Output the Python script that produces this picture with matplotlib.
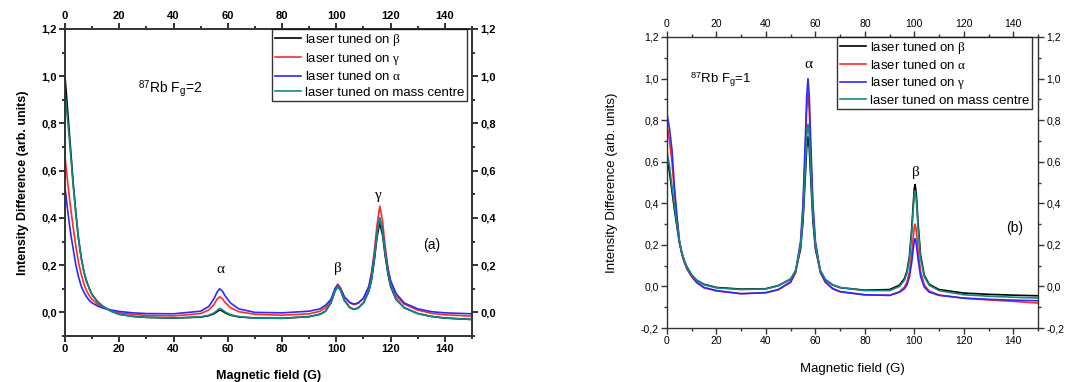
import matplotlib
matplotlib.use('Agg')
import matplotlib.pyplot as plt
from matplotlib.ticker import MultipleLocator, FuncFormatter

plt.rcParams['font.family'] = ['Liberation Sans', 'DejaVu Sans']
plt.rcParams['mathtext.fontset'] = 'custom'
plt.rcParams['mathtext.rm'] = 'Liberation Serif'
plt.rcParams['mathtext.sf'] = 'Liberation Sans'
plt.rcParams['mathtext.it'] = 'Liberation Serif:italic'

# ---------------- data: panel (a) 87Rb Fg=2 ----------------
field_a = [0, 1, 2, 3, 4, 5, 6, 7, 8, 9, 10,
           12, 14, 17, 20, 25, 30, 40,
           50, 53, 55, 56, 57, 58, 59, 61, 64, 70, 80, 90,
           94, 96, 98, 99.5, 100.5, 101.5, 103, 105, 106.5, 108, 110,
           112, 113, 114, 115, 116, 117, 118, 119, 120, 122,
           125, 130, 135, 140, 150]
a_beta = [1.0, 0.85, 0.70, 0.55, 0.42, 0.31, 0.23, 0.17, 0.13, 0.10, 0.075,
          0.045, 0.025, 0.005, -0.008, -0.017, -0.021, -0.024,
          -0.02, -0.014, -0.005, 0.003, 0.01, 0.006, -0.002, -0.012, -0.019, -0.024, -0.025, -0.018,
          -0.008, 0.005, 0.04, 0.09, 0.11, 0.095, 0.05, 0.02, 0.013, 0.018, 0.04,
          0.09, 0.14, 0.22, 0.32, 0.38, 0.33, 0.24, 0.165, 0.11, 0.055,
          0.02, -0.005, -0.017, -0.024, -0.03]
a_gamma = [0.66, 0.55, 0.45, 0.36, 0.28, 0.21, 0.16, 0.12, 0.09, 0.07, 0.055,
           0.035, 0.02, 0.007, -0.002, -0.008, -0.013, -0.015,
           -0.005, 0.01, 0.035, 0.055, 0.066, 0.058, 0.042, 0.02, 0.003, -0.008, -0.012, -0.006,
           0.005, 0.02, 0.05, 0.10, 0.12, 0.105, 0.065, 0.04, 0.033, 0.038, 0.06,
           0.11, 0.17, 0.26, 0.37, 0.45, 0.39, 0.28, 0.19, 0.13, 0.07,
           0.035, 0.01, -0.004, -0.01, -0.016]
a_alpha = [0.53, 0.43, 0.34, 0.27, 0.20, 0.15, 0.11, 0.085, 0.065, 0.05, 0.04,
           0.027, 0.018, 0.01, 0.004, -0.002, -0.005, -0.006,
           0.005, 0.025, 0.06, 0.085, 0.10, 0.09, 0.07, 0.04, 0.015, 0.0, -0.002, 0.005,
           0.015, 0.03, 0.055, 0.10, 0.115, 0.10, 0.065, 0.042, 0.035, 0.04, 0.06,
           0.11, 0.165, 0.24, 0.34, 0.40, 0.35, 0.26, 0.185, 0.135, 0.08,
           0.04, 0.015, 0.003, -0.002, -0.006]
a_mass = [0.93, 0.81, 0.68, 0.54, 0.42, 0.31, 0.23, 0.17, 0.13, 0.10, 0.075,
          0.045, 0.025, 0.005, -0.008, -0.017, -0.021, -0.024,
          -0.019, -0.012, -0.002, 0.008, 0.017, 0.011, 0.002, -0.01, -0.018, -0.024, -0.025, -0.018,
          -0.008, 0.005, 0.04, 0.09, 0.11, 0.095, 0.05, 0.02, 0.013, 0.018, 0.04,
          0.09, 0.145, 0.23, 0.335, 0.40, 0.345, 0.25, 0.17, 0.115, 0.057,
          0.02, -0.005, -0.017, -0.024, -0.03]

# ---------------- data: panel (b) 87Rb Fg=1 ----------------
field_b = [0, 1, 2, 3, 4, 5, 6, 7, 8, 10, 12, 15, 20, 30,
           40, 45, 50, 52, 54, 55, 56, 56.5, 57, 57.5, 58, 59, 60, 62, 64, 67, 70, 80, 90,
           94, 96, 97, 98, 99, 99.5, 100, 100.3, 100.8, 101.5, 102.5, 104, 106, 110,
           120, 130, 140, 150]
b_beta = [0.62, 0.55, 0.46, 0.37, 0.29, 0.21, 0.16, 0.12, 0.095, 0.055, 0.03, 0.01, -0.005, -0.013,
          -0.011, 0.004, 0.035, 0.073, 0.18, 0.315, 0.55, 0.67, 0.72, 0.67, 0.55, 0.315, 0.18, 0.073, 0.033, 0.007, -0.006, -0.018, -0.015,
          0.006, 0.038, 0.073, 0.143, 0.285, 0.387, 0.472, 0.49, 0.444, 0.305, 0.153, 0.054, 0.01, -0.015,
          -0.032, -0.038, -0.042, -0.045]
b_alpha = [0.78, 0.70, 0.60, 0.45, 0.33, 0.22, 0.155, 0.115, 0.085, 0.045, 0.018, -0.007, -0.022, -0.035,
           -0.03, -0.016, 0.019, 0.065, 0.20, 0.37, 0.682, 0.853, 0.93, 0.853, 0.682, 0.37, 0.20, 0.065, 0.019, -0.012, -0.026, -0.041, -0.043,
           -0.025, -0.003, 0.021, 0.068, 0.163, 0.231, 0.288, 0.30, 0.269, 0.176, 0.074, 0.008, -0.022, -0.041,
           -0.057, -0.065, -0.072, -0.08]
b_gamma = [0.83, 0.76, 0.66, 0.48, 0.34, 0.22, 0.16, 0.12, 0.09, 0.05, 0.02, -0.005, -0.02, -0.035,
           -0.03, -0.015, 0.023, 0.072, 0.217, 0.40, 0.734, 0.917, 1.0, 0.917, 0.734, 0.40, 0.217, 0.072, 0.023, -0.01, -0.025, -0.04, -0.043,
           -0.028, -0.011, 0.007, 0.045, 0.121, 0.175, 0.22, 0.23, 0.205, 0.131, 0.05, -0.003, -0.027, -0.043,
           -0.056, -0.062, -0.066, -0.069]
b_mass = [0.65, 0.58, 0.48, 0.39, 0.30, 0.22, 0.165, 0.125, 0.095, 0.055, 0.03, 0.008, -0.007, -0.015,
          -0.012, 0.003, 0.036, 0.078, 0.197, 0.341, 0.593, 0.724, 0.78, 0.724, 0.593, 0.341, 0.197, 0.078, 0.034, 0.008, -0.005, -0.02, -0.02,
          0.0, 0.03, 0.063, 0.13, 0.265, 0.362, 0.443, 0.46, 0.416, 0.284, 0.14, 0.047, 0.006, -0.02,
          -0.04, -0.047, -0.052, -0.056]

C_BLACK = '#000000'
C_RED = '#ff2a2a'
C_BLUE = '#2a2aff'
C_TEAL = '#13897f'

comma = FuncFormatter(lambda v, p: ('%.1f' % v).replace('.', ',').replace('-0,0', '0,0'))
intfmt = FuncFormatter(lambda v, p: '%d' % round(v))

fig = plt.figure(figsize=(10.92, 3.82), dpi=100)
axL = fig.add_axes([65/1092, 46/382, 407/1092, 307/382])
axR = fig.add_axes([667/1092, 54/382, 371/1092, 291/382])


def style(ax, ymin, bold, spw, fs):
    ax.set_xlim(0, 150)
    ax.set_ylim(ymin, 1.2)
    ax.xaxis.set_major_locator(MultipleLocator(20))
    ax.xaxis.set_minor_locator(MultipleLocator(10))
    ax.yaxis.set_major_locator(MultipleLocator(0.2))
    ax.yaxis.set_minor_locator(MultipleLocator(0.1))
    ax.yaxis.set_major_formatter(comma)
    ax.xaxis.set_major_formatter(intfmt)
    ax.tick_params(which='both', direction='out', top=True, right=True,
                   labeltop=True, labelright=True, labelsize=fs, color='#333333',
                   width=spw, pad=2)
    ax.tick_params(which='major', length=4)
    ax.tick_params(which='minor', length=2.5)
    for lab in ax.get_xticklabels() + ax.get_yticklabels():
        lab.set_fontweight('bold' if bold else 'normal')
    for s in ax.spines.values():
        s.set_linewidth(spw)
        s.set_color('#333333')


# ---- panel (a)
lw = 1.2
axL.plot(field_a, a_beta, color=C_BLACK, lw=lw, label=r'laser tuned on $\mathrm{\beta}$')
axL.plot(field_a, a_gamma, color=C_RED, lw=lw, label=r'laser tuned on $\mathrm{\gamma}$')
axL.plot(field_a, a_alpha, color=C_BLUE, lw=lw, label=r'laser tuned on $\mathrm{\alpha}$')
axL.plot(field_a, a_mass, color=C_TEAL, lw=lw, label='laser tuned on mass centre')
style(axL, -0.1, True, 1.4, 8)
for t in axL.xaxis.get_ticklabels() + axL.yaxis.get_ticklabels():
    t.set_fontweight('bold')
axL.set_xlabel('Magnetic field (G)', fontsize=9, fontweight='bold', labelpad=11)
axL.set_ylabel('Intensity Difference (arb. units)', fontsize=9, fontweight='bold', labelpad=9)
legL = axL.legend(loc='upper right', bbox_to_anchor=(0.988, 1.0), borderaxespad=0,
                  fontsize=9.5, frameon=True, fancybox=False, edgecolor='black',
                  handlelength=2.0, handletextpad=0.3, borderpad=0.2, labelspacing=0.25)
legL.get_frame().set_linewidth(1.0)
axL.text(27, 0.93, r'$^{\mathsf{87}}$Rb F$_{\mathsf{g}}$=2', fontsize=10)
axL.text(132, 0.27, '(a)', fontsize=10)
axL.text(57.3, 0.165, 'α', family='Liberation Serif', fontsize=11, ha='center')
axL.text(100.5, 0.17, 'β', family='Liberation Serif', fontsize=11, ha='center')
axL.text(115.5, 0.48, 'γ', family='Liberation Serif', fontsize=11, ha='center')

# ---- panel (b)
axR.plot(field_b, b_beta, color=C_BLACK, lw=lw, label=r'laser tuned on $\mathrm{\beta}$')
axR.plot(field_b, b_alpha, color=C_RED, lw=lw, label=r'laser tuned on $\mathrm{\alpha}$')
axR.plot(field_b, b_gamma, color=C_BLUE, lw=lw, label=r'laser tuned on $\mathrm{\gamma}$')
axR.plot(field_b, b_mass, color=C_TEAL, lw=lw, label='laser tuned on mass centre')
style(axR, -0.2, False, 1.0, 7.5)
axR.set_xlabel('Magnetic field (G)', fontsize=9.5, labelpad=12)
axR.set_ylabel('Intensity Difference (arb. units)', fontsize=9.5, labelpad=16)
legR = axR.legend(loc='upper right', bbox_to_anchor=(0.984, 1.0), borderaxespad=0,
                  fontsize=9.5, frameon=True, fancybox=False, edgecolor='black',
                  handlelength=2.0, handletextpad=0.3, borderpad=0.2, labelspacing=0.25)
legR.get_frame().set_linewidth(1.0)
axR.text(9.5, 0.98, r'$^{\mathsf{87}}$Rb F$_{\mathsf{g}}$=1', fontsize=9.5)
axR.text(137, 0.26, '(b)', fontsize=10)
axR.text(57, 1.05, 'α', family='Liberation Serif', fontsize=11, ha='center')
axR.text(100.5, 0.53, 'β', family='Liberation Serif', fontsize=11, ha='center')

fig.savefig('out.png', dpi=100)
